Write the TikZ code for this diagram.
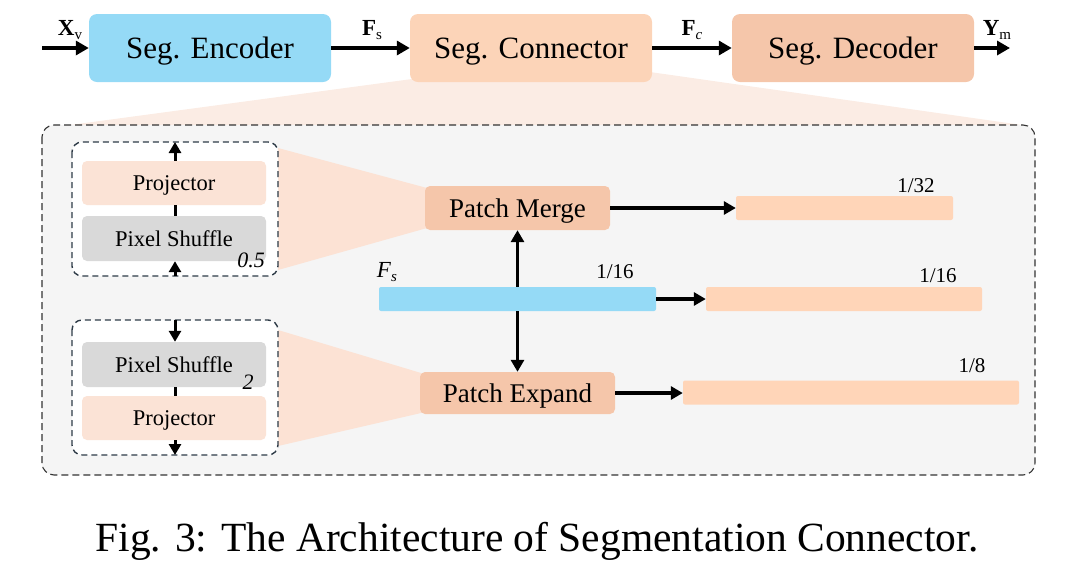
\documentclass[tikz,border=0pt]{standalone}
\usepackage{fontspec}
\setmainfont{Liberation Serif}
\usetikzlibrary{arrows.meta}
\definecolor{encblue}{HTML}{95DAF6}
\definecolor{connpeach}{HTML}{FCD4B8}
\definecolor{decpeach}{HTML}{F5C6AA}
\definecolor{outpeach}{HTML}{FFD5B8}
\definecolor{projpink}{HTML}{FBE3D6}
\definecolor{psgray}{HTML}{D9D9D9}
\definecolor{bgray}{HTML}{F5F5F5}
\definecolor{fanbig}{HTML}{FBECE4}
\definecolor{fansmall}{HTML}{FCE2D4}
\definecolor{dashdark}{HTML}{2E3B47}
\newcommand{\mysub}[1]{\raisebox{-0.35ex}{\fontsize{15}{15}\selectfont #1}}
\tikzset{
  topbox/.style={rounded corners=8pt, inner sep=0pt, text depth=0pt, font=\fontsize{31}{31}\selectfont},
  midbox/.style={rounded corners=5pt, inner sep=0pt, text depth=0pt, font=\fontsize{27}{27}\selectfont},
  smallbox/.style={rounded corners=5pt, inner sep=0pt, text depth=0pt, font=\fontsize{22.5}{22.5}\selectfont},
  bar/.style={rounded corners=2pt, inner sep=0pt},
  lbl/.style={inner sep=0pt, font=\fontsize{21}{21}\selectfont},
  toplbl/.style={inner sep=0pt, font=\fontsize{23}{23}\selectfont},
  arr/.style={line width=3.6pt, -{Triangle[length=13pt,width=14pt]}},
  iarr/.style={line width=3.2pt, -{Triangle[length=12pt,width=13pt]}},
  sarr/.style={line width=3pt, -{Triangle[length=11pt,width=12pt]}},
  dbox/.style={dashed, dash pattern=on 6pt off 4pt, draw=dashdark, line width=1.4pt, rounded corners=10pt}
}
\begin{document}
\begin{tikzpicture}[x=1pt,y=-1pt]
\useasboundingbox (0,0) rectangle (1082,566);
% big fan
\fill[fanbig] (412,79) -- (650,72) -- (1022,125) -- (70,125) -- cycle;
% big dashed box
\draw[dbox, draw=black!80, line width=1.1pt, dash pattern=on 7pt off 4pt, rounded corners=12pt, fill=bgray] (42,125) rectangle (1035,475);
% top row
\node[topbox, fill=encblue, minimum width=242pt, minimum height=68pt] (enc) at (210,48) {Seg. Encoder};
\node[topbox, fill=connpeach, minimum width=242pt, minimum height=68pt] (conn) at (531,48) {Seg. Connector};
\node[topbox, fill=decpeach, minimum width=242pt, minimum height=68pt] (dec) at (853,48) {Seg. Decoder};
\coordinate (xin) at (42,48);
\coordinate (yout) at (1010,48);
\draw[arr] (xin) -- (enc.west);
\draw[arr] (enc.east) -- (conn.west);
\draw[arr] (conn.east) -- (dec.west);
\draw[arr] (dec.east) -- (yout);
\node[toplbl] (lx) at (70,30) {\textbf{X}\mysub{v}};
\node[toplbl] (lfs) at (372,30) {\textbf{F}\mysub{s}};
\node[toplbl] (lfc) at (692,30) {\textbf{F}\mysub{\itshape c}};
\node[toplbl] (ly) at (997,30) {\textbf{Y}\mysub{m}};
% small fans
\fill[fansmall] (278,148) -- (427,188) -- (427,228) -- (278,270) -- cycle;
\fill[fansmall] (278,330) -- (421,373) -- (421,413) -- (278,446) -- cycle;
% upper small box
\draw[dbox, fill=white] (72,142) rectangle (278,276);
\node[smallbox, fill=projpink, minimum width=184pt, minimum height=44pt] (proj1) at (174,183) {Projector};
\node[smallbox, fill=psgray, minimum width=184pt, minimum height=45pt] (ps1) at (174,238.5) {Pixel Shuffle};
\node[lbl, font=\fontsize{22}{22}\selectfont\itshape] (s1) at (251,260) {0.5};
\coordinate (u1b) at (175,276);
\coordinate (u1t) at (175,142);
\draw[sarr] (u1b) -- (ps1.south -| u1b);
\draw[line width=3pt] (ps1.north -| u1b) -- (proj1.south -| u1b);
\draw[sarr] (proj1.north -| u1b) -- (u1t);
% lower small box
\draw[dbox, fill=white] (72,320) rectangle (278,455);
\node[smallbox, fill=psgray, minimum width=184pt, minimum height=45pt] (ps2) at (174,364.5) {Pixel Shuffle};
\node[smallbox, fill=projpink, minimum width=184pt, minimum height=44pt] (proj2) at (174,418) {Projector};
\node[lbl, font=\fontsize{22}{22}\selectfont\itshape] (s2) at (248,382) {2};
\coordinate (l2t) at (175,320);
\coordinate (l2b) at (175,455);
\draw[sarr] (l2t) -- (ps2.north -| l2t);
\draw[line width=3pt] (ps2.south -| l2t) -- (proj2.north -| l2t);
\draw[sarr] (proj2.south -| l2t) -- (l2b);
% patch nodes
\node[midbox, fill=decpeach, minimum width=185pt, minimum height=44pt] (merge) at (517.5,208) {Patch Merge};
\node[midbox, fill=decpeach, minimum width=195pt, minimum height=42pt] (expand) at (517.5,393) {Patch Expand};
\node[bar, fill=encblue, minimum width=277pt, minimum height=24pt] (fs) at (517.5,299) {};
\node[bar, fill=outpeach, minimum width=217pt, minimum height=24pt] (o32) at (844.5,208) {};
\node[bar, fill=outpeach, minimum width=276pt, minimum height=24pt] (o16) at (844,299) {};
\node[bar, fill=outpeach, minimum width=336pt, minimum height=24pt] (o8) at (851,392.5) {};
\node[lbl] (t32) at (916,186) {1/32};
\node[lbl] (t16a) at (615,272) {1/16};
\node[lbl] (t16b) at (938,276) {1/16};
\node[lbl] (t8) at (972,366) {1/8};
\node[lbl, font=\fontsize{23}{23}\selectfont] (tfs) at (387,272) {\textit{F}\mysub{\itshape s}};
\draw[iarr] (merge.east) -- (merge.east -| o32.west);
\draw[iarr] (fs.east) -- (fs.east -| o16.west);
\draw[iarr] (expand.east) -- (expand.east -| o8.west);
\draw[iarr] (fs.north) -- (merge.south);
\draw[iarr] (fs.south) -- (expand.north);
% caption
\node[inner sep=0pt, font=\fontsize{41.5}{41.5}\selectfont] (cap) at (537,541) {Fig. 3: The Architecture of Segmentation Connector.};
\end{tikzpicture}
\end{document}
